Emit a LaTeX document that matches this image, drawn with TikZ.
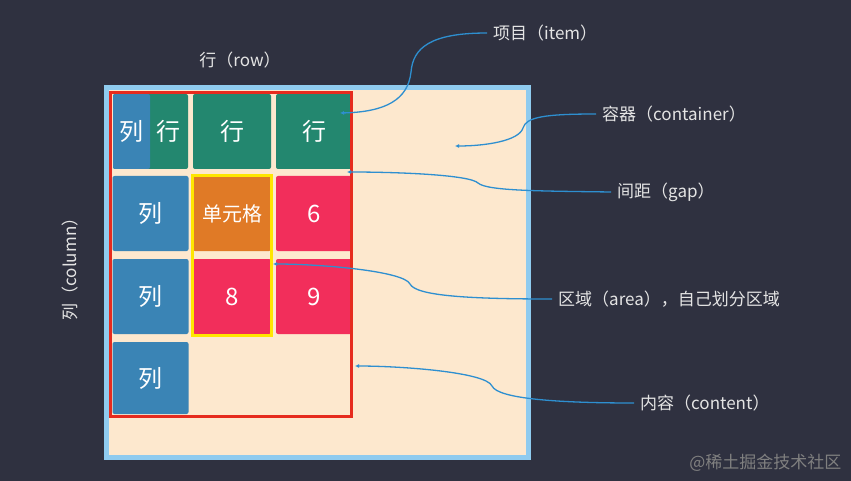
\documentclass[tikz,border=0pt]{standalone}
\usepackage{fontspec}
\setmainfont{Noto Sans CJK SC}
\usepackage{tikz}
\usetikzlibrary{arrows.meta, positioning}

\definecolor{bgdark}{HTML}{2F3140}
\definecolor{peach}{HTML}{FDE8CE}
\definecolor{boxblue}{HTML}{8FCBEF}
\definecolor{contred}{HTML}{E62B1E}
\definecolor{colblue}{HTML}{3A84B5}
\definecolor{rowgreen}{HTML}{23876F}
\definecolor{cellorange}{HTML}{E07A26}
\definecolor{cellpink}{HTML}{F22E5B}
\definecolor{areayellow}{HTML}{FFE600}
\definecolor{linkblue}{HTML}{2E8FD0}
\definecolor{labelgray}{HTML}{E4E4E4}

\tikzset{
  cell/.style={rectangle, rounded corners=2pt, minimum width=76pt, minimum height=75pt, inner sep=0pt, text=white, font=\fontsize{24}{24}\selectfont},
  note/.style={anchor=west, inner sep=6pt, text=labelgray, font=\fontsize{17}{17}\selectfont},
  link/.style={linkblue, line width=1.3pt, -{Latex[length=4pt,width=4pt]}}
}

\begin{document}
\begin{tikzpicture}[x=1pt, y=-1pt]
\fill[bgdark] (0,0) rectangle (851,481);
\useasboundingbox (0,0) rectangle (851,481);

\draw[boxblue, line width=5pt, fill=peach] (106.5,87.5) rectangle (528.5,457.5);

\node[cell, fill=rowgreen, minimum width=75pt] (c11) at (150.5,131.5) {};
\node[cell, fill=colblue, minimum width=37pt] (c11a) at (131.5,131.5) {列};
\node[cell, minimum width=39pt] (c11b) at (168.5,131.5) {行};
\node[cell, fill=rowgreen, minimum width=78pt] (c12) at (232,131.5) {行};
\node[cell, fill=rowgreen] (c13) at (314,131.5) {行};
\node[cell, fill=colblue] (c21) at (150.5,213.5) {列};
\node[cell, fill=cellorange, minimum width=78pt, font=\fontsize{20}{20}\selectfont] (c22) at (232,213.5) {单元格};
\node[cell, fill=cellpink] (c23) at (314,213.5) {6};
\node[cell, fill=colblue] (c31) at (150.5,296.5) {列};
\node[cell, fill=cellpink, minimum width=78pt] (c32) at (232,296.5) {8};
\node[cell, fill=cellpink] (c33) at (314,296.5) {9};
\node[cell, fill=colblue, minimum height=72pt] (c41) at (150.5,378) {列};

\draw[areayellow, line width=3pt] (192.5,176) rectangle (271.5,335);
\draw[contred, line width=3pt] (110.5,92.5) rectangle (351.5,416);

\node[text=labelgray, font=\fontsize{17}{17}\selectfont] (rowlbl) at (240,60) {行（row）};
\node[text=labelgray, font=\fontsize{17}{17}\selectfont, rotate=90] (collbl) at (70,265) {列（column）};

\node[note] (item) at (487,33) {项目（item）};
\node[note] (container) at (596,114) {容器（container）};
\node[note] (gap) at (611,192) {间距（gap）};
\node[note] (area) at (552,299) {区域（area），自己划分区域};
\node[note] (content) at (634,403) {内容（content）};

\coordinate (itemend) at (340,113);
\coordinate (contend) at (455,146);
\coordinate (gapend) at (347,172);
\coordinate (areaend) at (273,264);
\coordinate (contentend) at (355,366);

\draw[link] (item.west) .. controls (430,33) and (413,48) .. (411,72) .. controls (408,100) and (385,112) .. (itemend);
\draw[link] (container.west) .. controls (545,114) and (526,117) .. (523,128) .. controls (519,141) and (485,146) .. (contend);
\draw[link] (gap.west) .. controls (540,191) and (487,191) .. (478,183) .. controls (470,175) and (400,172) .. (gapend);
\draw[link] (area.west) .. controls (470,299) and (416,296) .. (410,284) .. controls (404,271) and (320,264) .. (areaend);
\draw[link] (content.west) .. controls (560,403) and (498,399) .. (492,386) .. controls (486,372) and (400,366) .. (contentend);

\node[anchor=east, text=gray, font=\fontsize{17}{17}\selectfont] (mark) at (845,463) {@稀土掘金技术社区};
\end{tikzpicture}
\end{document}
